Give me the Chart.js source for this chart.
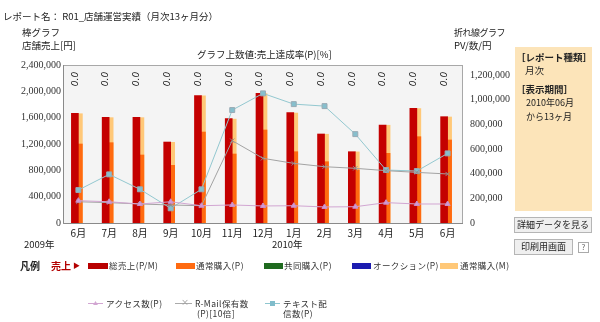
<!DOCTYPE html>
<html lang="ja">
<head>
<meta charset="utf-8">
<script src="https://cdn.jsdelivr.net/npm/chart.js@4/dist/chart.umd.min.js"></script>
<style>
  html, body { margin: 0; padding: 0; background: #fff; }
  body { width: 600px; height: 322px; position: relative; overflow: hidden;
         font-family: "Noto Sans CJK JP", sans-serif; color: #222; }
  #wrap { position: absolute; left: 0; top: 0; width: 600px; height: 322px; }
  .t { position: absolute; white-space: nowrap; line-height: 1; }
  .lg { position: absolute; white-space: nowrap; line-height: 1; font-size: 8.5px; letter-spacing: 0.4px; color: #333; }
  .sw { position: absolute; height: 6px; }
  .panel { position: absolute; left: 515px; top: 47px; width: 77px; height: 164px; background: #fce4b9; }
  .btn { position: absolute; background: #efefef; border: 1px solid #b5b5b5; font-size: 9px; line-height: 14px; text-align: center; color: #222; }
</style>
</head>
<body>
<div id="wrap"><canvas id="salesChart" width="600" height="322"></canvas></div>

<div class="t" style="left:3px;top:12px;font-size:9.5px;">レポート名： R01_店舗運営実績（月次13ヶ月分）</div>
<div class="t" style="left:22px;top:28px;font-size:9.5px;">棒グラフ</div>
<div class="t" style="left:22px;top:41px;font-size:9.5px;">店舗売上[円]</div>
<div class="t" style="left:197px;top:50px;font-size:9.5px;">グラフ上数値:売上達成率(P)[%]</div>
<div class="t" style="left:454px;top:28px;font-size:9px;letter-spacing:-0.5px;">折れ線グラフ</div>
<div class="t" style="left:454px;top:41px;font-size:9.5px;">PV/数/円</div>

<div class="panel"></div>
<div class="t" style="left:516px;top:53px;font-size:9.5px;font-weight:bold;">［レポート種類］</div>
<div class="t" style="left:525px;top:66px;font-size:9.5px;">月次</div>
<div class="t" style="left:516px;top:85px;font-size:9.5px;font-weight:bold;">［表示期間］</div>
<div class="t" style="left:526px;top:98px;font-size:9px;">2010年06月</div>
<div class="t" style="left:526px;top:112px;font-size:9px;">から13ヶ月</div>
<div class="btn" style="left:514px;top:217px;width:76px;">詳細データを見る</div>
<div class="btn" style="left:514px;top:239px;width:57px;">印刷用画面</div>
<div class="t" style="left:578px;top:242px;font-size:8px;color:#666;border:1px solid #aaa;width:9px;height:9px;text-align:center;">?</div>

<div class="t" style="left:24px;top:240px;font-size:9.5px;">2009年</div>
<div class="t" style="left:272px;top:240px;font-size:9.5px;">2010年</div>

<!-- legend -->
<div class="t" style="left:20px;top:261px;font-size:10px;font-weight:bold;">凡例</div>
<div class="t" style="left:51px;top:261px;font-size:10px;font-weight:bold;color:#b30000;">売上</div>
<div class="t" style="left:73px;top:262px;font-size:7px;color:#b30000;">▶</div>
<div class="sw" style="left:88px;top:263px;width:20px;background:#b80000;"></div>
<div class="lg" style="left:109px;top:261px;">総売上(P/M)</div>
<div class="sw" style="left:176px;top:263px;width:19px;background:#ff6a10;"></div>
<div class="lg" style="left:196px;top:261px;">通常購入(P)</div>
<div class="sw" style="left:264px;top:263px;width:19px;background:#1f6a1f;"></div>
<div class="lg" style="left:284px;top:261px;">共同購入(P)</div>
<div class="sw" style="left:352px;top:263px;width:19px;background:#1c1cb0;"></div>
<div class="lg" style="left:373px;top:261px;">オークション(P)</div>
<div class="sw" style="left:440px;top:263px;width:18px;background:#ffc878;"></div>
<div class="lg" style="left:460px;top:261px;">通常購入(M)</div>

<div class="t" style="left:88px;top:303px;width:15px;height:1px;background:#d2a6d2;"></div>
<div class="t" style="left:93px;top:300px;font-size:5px;color:#d2a6d2;">▲</div>
<div class="lg" style="left:106px;top:299px;">アクセス数(P)</div>
<div class="t" style="left:175px;top:303px;width:17px;height:1px;background:#aaa;"></div>
<div class="t" style="left:181px;top:298px;font-size:8px;color:#999;">×</div>
<div class="lg" style="left:195px;top:299px;">R-Mail保有数</div>
<div class="lg" style="left:197px;top:309px;">(P)[10倍]</div>
<div class="t" style="left:265px;top:303px;width:15px;height:1px;background:#8fc6cf;"></div>
<div class="t" style="left:270px;top:301px;width:5px;height:5px;background:#80bccb;"></div>
<div class="lg" style="left:283px;top:299px;">テキスト配</div>
<div class="lg" style="left:283px;top:309px;">信数(P)</div>

<script>
// months on the category axis
const months = ["6月", "7月", "8月", "9月", "10月", "11月", "12月", "1月", "2月", "3月", "4月", "5月", "6月"];

// bar series (left axis, yen)
const totalSales = [1666000, 1605000, 1605000, 1230000, 1934000, 1585000, 1970000, 1676000, 1352000, 1083000, 1489000, 1742000, 1615000];
const normalP = [1200000, 1220000, 1033000, 876000, 1382000, 1048000, 1413000, 1083000, 931000, 805000, 1058000, 1311000, 1261000];
const normalM = [1660000, 1600000, 1600000, 1225000, 1930000, 1578000, 1965000, 1670000, 1348000, 1080000, 1485000, 1738000, 1610000];

// sales achievement rate shown above each month [%]
const achieveRate = [0, 0, 0, 0, 0, 0, 0, 0, 0, 0, 0, 0, 0];

// line series (right axis)
const accessCount = [181000, 172000, 154000, 172000, 140000, 146000, 138000, 140000, 130000, 132000, 165000, 154000, 154000];
const rmailCount = [172000, 165000, 154000, 146000, 140000, 667000, 524000, 483000, 456000, 443000, 424000, 410000, 397000];
const textCount = [267000, 394000, 273000, 119000, 273000, 915000, 1050000, 963000, 947000, 720000, 429000, 421000, 564000];

// axis ticks
const leftTicks = [0, 400000, 800000, 1200000, 1600000, 2000000, 2400000];
const rightTicks = [0, 200000, 400000, 600000, 800000, 1000000, 1200000];
const leftMax = 2400000;
const rightMax = 1280000;

const tickFont = { family: "Liberation Serif", size: 10 };
const fmt = v => v.toLocaleString("en-US");

// plot background + frame
const plotFrame = {
    id: "plotFrame",
    beforeDatasetsDraw(chart) {
        const { ctx, chartArea: a } = chart;
        ctx.save();
        ctx.fillStyle = "#f4f4f4";
        ctx.fillRect(a.left, a.top, a.right - a.left, a.bottom - a.top);
        ctx.restore();
    },
    afterDatasetsDraw(chart) {
        const { ctx, chartArea: a } = chart;
        ctx.save();
        ctx.strokeStyle = "#a8a8a8";
        ctx.lineWidth = 1;
        ctx.strokeRect(a.left + 0.5, a.top + 0.5, a.right - a.left - 1, a.bottom - a.top);
        ctx.strokeStyle = "#8a8a8a";
        ctx.beginPath();
        ctx.moveTo(a.left + 0.5, a.top);
        ctx.lineTo(a.left + 0.5, a.bottom + 0.5);
        ctx.lineTo(a.right, a.bottom + 0.5);
        ctx.stroke();
        ctx.restore();
    }
};

// rotated rate labels along the top of the plot
const rateLabels = {
    id: "rateLabels",
    afterDatasetsDraw(chart) {
        const { ctx, chartArea: a } = chart;
        const xs = chart.scales.x;
        ctx.save();
        ctx.fillStyle = "#111";
        ctx.font = "italic 9px 'DejaVu Sans'";
        ctx.textAlign = "center";
        ctx.textBaseline = "middle";
        achieveRate.forEach((v, i) => {
            ctx.save();
            ctx.translate(xs.getPixelForValue(i) - 3, a.top + 14);
            ctx.rotate(-Math.PI / 2);
            ctx.fillText(v.toFixed(1), 0, 0);
            ctx.restore();
        });
        ctx.restore();
    }
};

const ctx = document.getElementById("salesChart").getContext("2d");

new Chart(ctx, {
    type: "bar",
    data: {
        labels: months,
        datasets: [
            { type: "line", label: "アクセス数(P)", data: accessCount, yAxisID: "y2", order: 0,
              borderColor: "#d2a6d2", backgroundColor: "#d49ad4", borderWidth: 1,
              pointStyle: "triangle", pointRadius: 3, pointBorderWidth: 1, pointBorderColor: "#c98fc9" },
            { type: "line", label: "R-Mail保有数(P)[10倍]", data: rmailCount, yAxisID: "y2", order: 0,
              borderColor: "#a3a3a3", backgroundColor: "#9a9a9a", borderWidth: 1,
              pointStyle: "crossRot", pointRadius: 3, pointBorderWidth: 1, pointBorderColor: "#8e8e8e" },
            { type: "line", label: "テキスト配信数(P)", data: textCount, yAxisID: "y2", order: 0,
              borderColor: "#93c8d0", backgroundColor: "#86bfcd", borderWidth: 1,
              pointStyle: "rect", pointRadius: 3.5, pointBorderWidth: 1, pointBorderColor: "#9aaab4" },
            { label: "総売上(P/M)", data: totalSales, backgroundColor: "#c40000", stack: "a",
              barThickness: 7, order: 1 },
            { label: "通常購入(P)", data: normalP, backgroundColor: "#ff6a10", stack: "b",
              barThickness: 4, order: 2 },
            { label: "通常購入(M)", data: normalM, backgroundColor: "#ffc878", stack: "b",
              barThickness: 4, order: 3 }
        ]
    },
    options: {
        responsive: false,
        animation: false,
        layout: { padding: { left: 0, top: 65, right: 57, bottom: 79 } },
        plugins: {
            legend: { display: false },
            tooltip: { enabled: false }
        },
        scales: {
            x: {
                grid: { display: false, drawTicks: false },
                border: { display: false },
                ticks: { color: "#222", padding: 4, font: { family: "Noto Sans CJK JP", size: 10 }, maxRotation: 0 },
                afterFit(s) { s.height = 20; }
            },
            y: {
                position: "left",
                stacked: false,
                min: 0,
                max: leftMax,
                grid: { display: false, drawTicks: false },
                border: { display: false },
                ticks: { color: "#333", padding: 2, font: tickFont, callback: fmt },
                afterBuildTicks(s) { s.ticks = leftTicks.map(v => ({ value: v })); },
                afterFit(s) { s.width = 63; }
            },
            y2: {
                position: "right",
                stacked: false,
                min: 0,
                max: rightMax,
                grid: { display: false, drawTicks: false },
                border: { display: false },
                ticks: { color: "#333", padding: 7, font: tickFont, callback: fmt },
                afterBuildTicks(s) { s.ticks = rightTicks.map(v => ({ value: v })); },
                afterFit(s) { s.width = 80; }
            }
        }
    },
    plugins: [plotFrame, rateLabels]
});
</script>
</body>
</html>
